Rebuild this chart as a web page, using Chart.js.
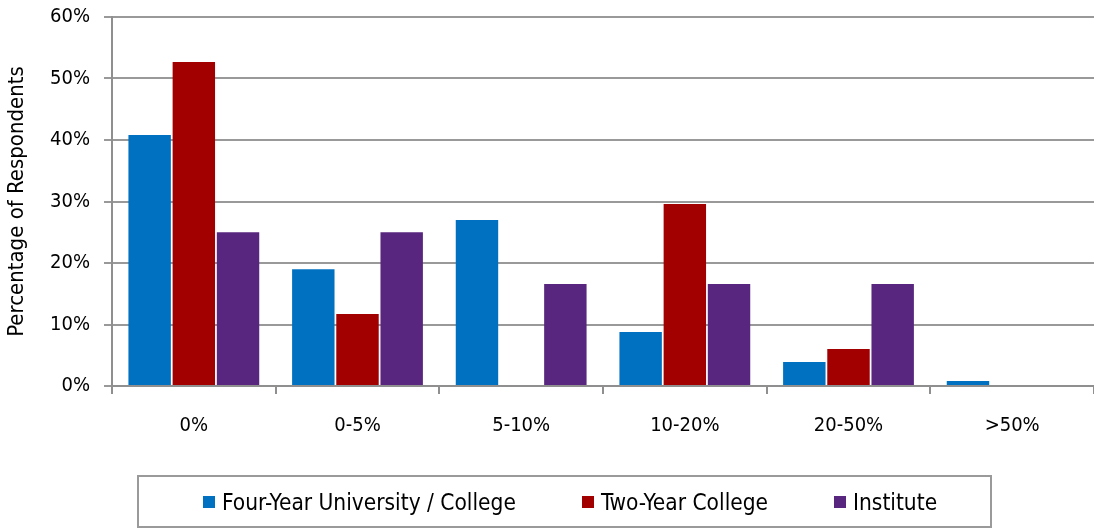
<!DOCTYPE html>
<html>
<head>
<meta charset="utf-8">
<script src="https://cdn.jsdelivr.net/npm/chart.js@4/dist/chart.umd.min.js"></script>
<style>
  html, body { margin: 0; padding: 0; background: #fff; }
  #wrap { position: relative; width: 1094px; height: 529px; }
  #legend {
    position: absolute; left: 137px; top: 475px; width: 855px; height: 53px;
    border: 2px solid #9a9a9a; display: flex; align-items: center;
    padding-left: 64px; box-sizing: border-box; white-space: nowrap;
    font-family: 'DejaVu Sans Condensed', sans-serif; font-size: 22.5px; color: #000;
  }
  #legend span.item { display: flex; align-items: center; margin-right: 66px; flex-shrink: 0; }
  #legend span.sw { display: inline-block; width: 12px; height: 12px; margin-right: 7px; }
</style>
</head>
<body>
<div id="wrap"><canvas id="myChart"></canvas><div id="legend"></div></div>
<script>
const categories = ["0%", "0-5%", "5-10%", "10-20%", "20-50%", ">50%"];
const seriesNames = ["Four-Year University / College", "Two-Year College", "Institute"];
const fourYear = [40.8, 19.0, 27.0, 8.8, 3.9, 0.8];
const twoYear = [52.7, 11.7, 0, 29.6, 6.0, 0];
const institute = [25.0, 25.0, 16.6, 16.6, 16.6, 0];
const yTicks = [0, 10, 20, 30, 40, 50, 60];
const colors = ["#0070c0", "#a20000", "#58267e"];

const fontFamily = "'DejaVu Sans Condensed', 'Liberation Sans Narrow', sans-serif";

const ctx = document.getElementById("myChart").getContext("2d");
const chart = new Chart(ctx, {
  type: "bar",
  data: {
    labels: categories,
    datasets: [
      { label: seriesNames[0], data: fourYear, backgroundColor: colors[0] },
      { label: seriesNames[1], data: twoYear, backgroundColor: colors[1] },
      { label: seriesNames[2], data: institute, backgroundColor: colors[2] },
    ],
  },
  options: {
    responsive: true,
    maintainAspectRatio: false,
    animation: false,
    layout: { padding: { top: 17, left: 0, right: 0, bottom: 51 } },
    datasets: { bar: { categoryPercentage: 0.81, barPercentage: 0.96 } },
    plugins: {
      tooltip: { enabled: false },
      legend: { display: false },
    },
    scales: {
      x: {
        offset: true,
        grid: { drawOnChartArea: false, offset: true, color: "#8f8f8f", lineWidth: 2, tickLength: 8 },
        border: { color: "#8f8f8f", width: 2 },
        ticks: { font: { family: fontFamily, size: 20 }, color: "#000", padding: 20 },
        afterFit(scale) { scale.height = 92; },
      },
      y: {
        min: 0,
        max: 60,
        afterBuildTicks(scale) { scale.ticks = yTicks.map(v => ({ value: v })); },
        grid: { color: "#999", lineWidth: 2, tickLength: 8 },
        border: { color: "#8f8f8f", width: 2 },
        ticks: {
          font: { family: fontFamily, size: 20 },
          color: "#000",
          padding: 14,
          callback: v => v + "%",
        },
        title: {
          display: true,
          text: "Percentage of Respondents",
          font: { family: fontFamily, size: 22 },
          color: "#000",
          padding: { top: 4, bottom: 0 },
        },
        afterFit(scale) {
          scale.width = 112;
          scale.paddingTop = 10;
          scale.paddingBottom = 10;
        },
      },
    },
  },
});

// html legend in a box
const legendEl = document.getElementById("legend");
chart.data.datasets.forEach(ds => {
  const item = document.createElement("span");
  item.className = "item";
  const sw = document.createElement("span");
  sw.className = "sw";
  sw.style.background = ds.backgroundColor;
  item.appendChild(sw);
  item.appendChild(document.createTextNode(ds.label));
  legendEl.appendChild(item);
});
</script>
</body>
</html>
